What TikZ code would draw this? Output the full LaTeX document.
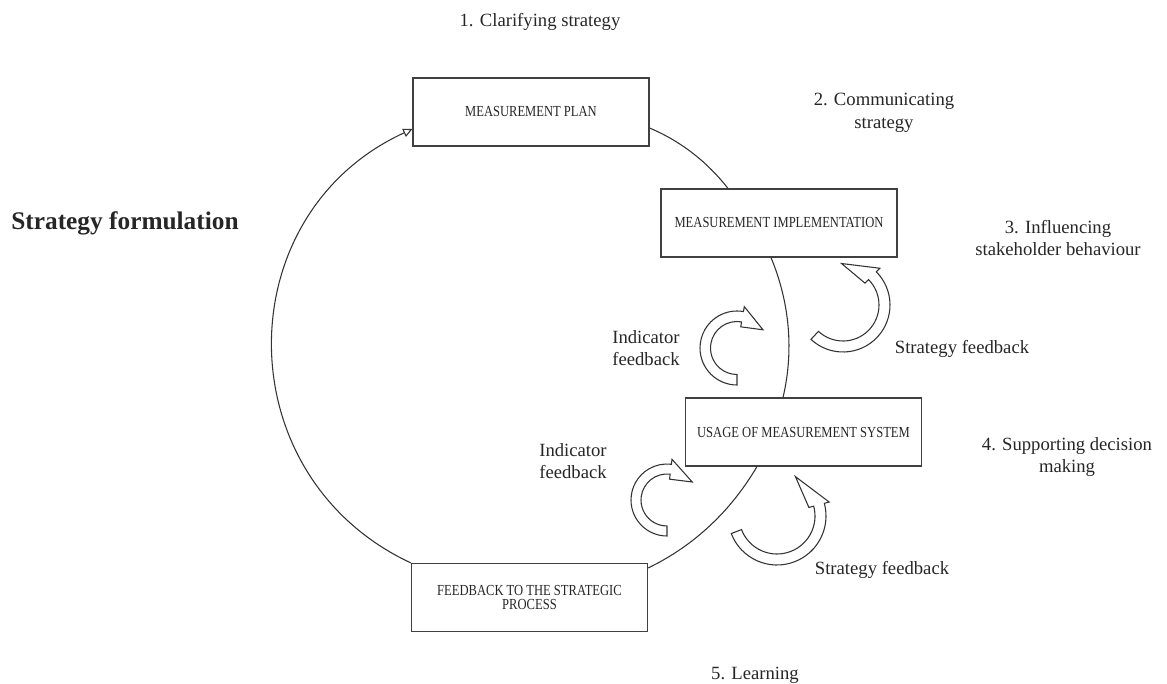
\documentclass[tikz,border=0pt]{standalone}
\usepackage{fontspec}
\setmainfont{Liberation Serif}
\newfontfamily\boxfont[FakeStretch=0.82]{Liberation Serif}
\usetikzlibrary{calc,arrows.meta}

% curved block arrow: centre x, centre y, inner radius, outer radius,
% tail angle, head-base angle, tip angle
\newcommand\bendarrow[7]{%
  \draw[flow] ($(#1,#2)+(#5:#4)$) arc[start angle=#5, end angle=#6, radius=#4]
    -- ($(#1,#2)+(#6:{#4+5})$) -- ($(#1,#2)+(#7:{(#3+#4)/2})$)
    -- ($(#1,#2)+(#6:{#3-5})$) -- ($(#1,#2)+(#6:#3)$)
    arc[start angle=#6, end angle=#5, radius=#3] -- cycle;}

\begin{document}
\begin{tikzpicture}[x=0.75pt,y=-0.75pt,
  stage/.style={draw=black!75, line width=0.8pt, fill=white,
    minimum width=177pt, minimum height=51pt, inner sep=0pt, align=center,
    font=\boxfont\fontsize{11.5}{11}\selectfont, text=black!85},
  lbl/.style={align=center, font=\fontsize{14}{17}\selectfont,
    text=black!85, inner sep=0pt},
  ring/.style={draw=black!80, line width=0.8pt},
  flow/.style={draw=black!80, line width=0.8pt, fill=white},
]
\useasboundingbox (0,0) rectangle (1167,684);

% stages of the measurement cycle
\node[stage] (mp)  at (531,112)     {MEASUREMENT PLAN};
\node[stage] (mi)  at (779,223)     {MEASUREMENT IMPLEMENTATION};
\node[stage] (ums) at (803.5,432)   {USAGE OF MEASUREMENT SYSTEM};
\node[stage] (fb)  at (529.5,597.5) {FEEDBACK TO THE STRATEGIC\\PROCESS};

% cycle connectors
\draw[ring] ($(mp.east)+(0,16)$) .. controls +(31,13) and +(-20.7,-26.6)
  .. ($(mi.north)+(-51,0)$);
\draw[ring] ($(mi.south)+(-8,0)$) .. controls +(18.5,44.6) and +(11.1,-47.0)
  .. ($(ums.north)+(-20.5,0)$);
\draw[ring] ($(ums.south)+(-46.5,0)$) .. controls +(-26.1,44.3) and +(46.3,-22.3)
  .. ($(fb.east)+(0,-29.5)$);
\draw[ring, -{Triangle[open, length=7pt, width=6.5pt]}] (fb.north west)
  .. controls +(-185.4,-86.5) and +(-186.0,85.2) .. ($(mp.west)+(0,17)$);

% feedback arrows
\bendarrow{737}{348}{26.5}{37}{90}{280}{325}
\bendarrow{843}{305}{36}{47}{133}{-45}{-92}
\bendarrow{667}{500}{26}{36}{90}{277}{324.5}
\bendarrow{777}{516}{38}{49}{159}{-15}{-65}

% labels
\node[lbl] (l1)  at (540,22)   {1. Clarifying strategy};
\node[lbl] (l2)  at (884,113)  {2. Communicating\\strategy};
\node[lbl, font=\bfseries\fontsize{19}{22}\selectfont] (sf) at (125,223) {Strategy formulation};
\node[lbl] (l3)  at (1058,238) {3. Influencing\\stakeholder behaviour};
\node[lbl] (if1) at (646,348)  {Indicator\\feedback};
\node[lbl] (sf1) at (962,349)  {Strategy feedback};
\node[lbl] (l4)  at (1067,457) {4. Supporting decision\\making};
\node[lbl] (if2) at (573,461)  {Indicator\\feedback};
\node[lbl] (sf2) at (882,570)  {Strategy feedback};
\node[lbl] (l5)  at (755,675)  {5. Learning};
\end{tikzpicture}
\end{document}
